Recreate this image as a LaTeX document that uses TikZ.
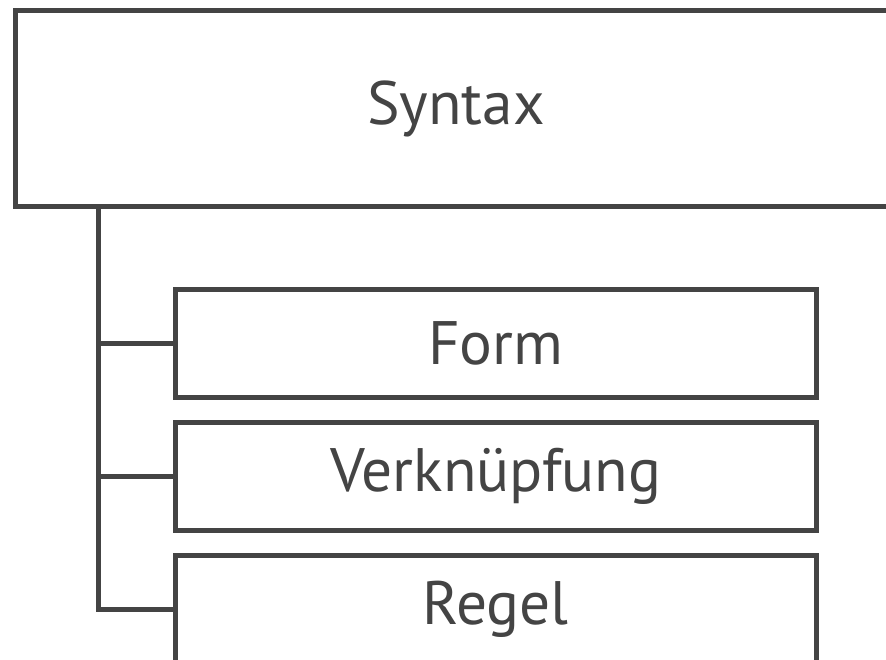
\documentclass[tikz,border=0pt]{standalone}
\usepackage{fontspec}
\setmainfont{PT Sans}
\definecolor{boxgray}{HTML}{444444}

\begin{document}
\begin{tikzpicture}[x=0.75pt,y=-0.75pt,
    every node/.style={draw=boxgray,text=boxgray,line width=3.75pt,
      font=\fontsize{46}{50}\selectfont,inner sep=0pt},
    topbox/.style={minimum width=660.75pt,minimum height=147pt},
    subbox/.style={minimum width=480.4pt,minimum height=81pt}]

        \useasboundingbox (0,0) rectangle (886,660);
        \clip (0,0) rectangle (886,660);

        \node[topbox] (syntax) at (456,108.5) {Syntax};

        \begin{scope}[every node/.append style={subbox}]
          \node (form)  at (495.75,343) {Form};
          \node (verkn) at (495.75,476) {Verknüpfung};
          \node (regel) at (495.75,609) {Regel};
        \end{scope}

        \coordinate (trunk) at (98,206.5);

        \begin{scope}[draw=boxgray,line width=3.75pt]
          \draw (trunk) |- (regel.west);
          \draw (trunk |- form.west)  -- (form.west);
          \draw (trunk |- verkn.west) -- (verkn.west);
        \end{scope}

      \end{tikzpicture}
\end{document}
